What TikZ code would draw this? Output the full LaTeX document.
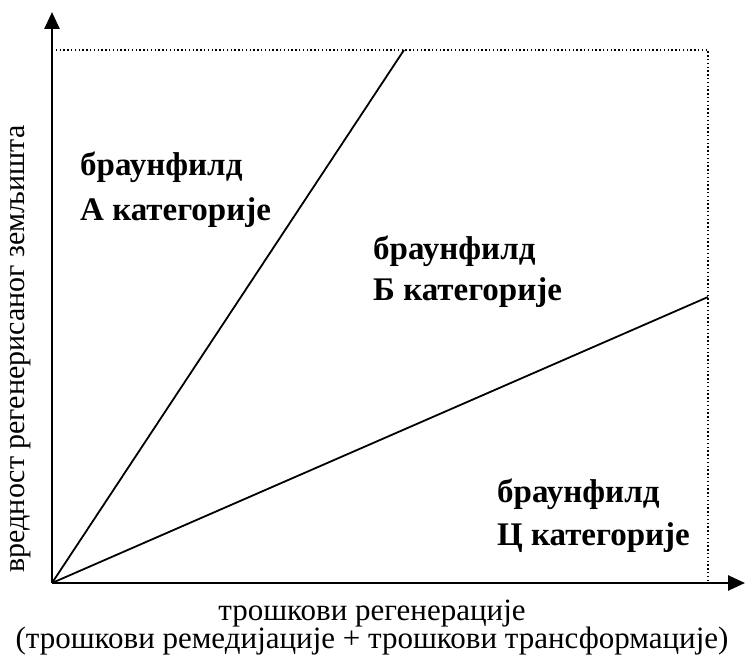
\documentclass[tikz,border=0pt]{standalone}
\usepackage{fontspec}
\setmainfont{Liberation Serif}
\usetikzlibrary{arrows.meta}
\begin{document}
\begin{tikzpicture}[x=1pt,y=-1pt,
  axis/.style={line width=2.6pt,-{Triangle[length=17pt,width=15pt]}},
  ray/.style={line width=1.8pt},
  frame/.style={line width=1.4pt,dash pattern=on 1.4pt off 2.4pt},
  lbl/.style={font=\fontsize{33}{38}\selectfont\bfseries,anchor=base west,inner sep=0pt},
  captxt/.style={font=\fontsize{31}{34}\selectfont,inner sep=0pt,anchor=base}]
\useasboundingbox (0,0) rectangle (745,655);
\coordinate (O) at (52,583);
\coordinate (Ytip) at (52,12);
\coordinate (Xtip) at (745,583);
\coordinate (TL) at (52,50);
\coordinate (TR) at (708,50);
\coordinate (BR) at (708,583);
\coordinate (A) at (404,50);
\coordinate (B) at (708,297);
\draw[frame] (TL) -- (TR) -- (BR);
\draw[ray] (O) -- (A);
\draw[ray] (O) -- (B);
\draw[axis] (O) -- (Ytip);
\draw[axis] (O) -- (Xtip);
\node[lbl] (la1) at (80,176) {браунфилд};
\node[lbl] (la2) at (80,221) {А категорије};
\node[lbl] (lb1) at (373,260) {браунфилд};
\node[lbl] (lb2) at (373,301) {Б категорије};
\node[lbl] (lc1) at (497,502) {браунфилд};
\node[lbl] (lc2) at (497,545) {Ц категорије};
\node[captxt] (c1) at (372,620) {трошкови регенерације};
\node[captxt] (c2) at (372,648) {(трошкови ремедијације + трошкови трансформације)};
\node[captxt,font=\fontsize{30}{34}\selectfont,rotate=90] (yl) at (24,349) {вредност регенерисаног земљишта};
\end{tikzpicture}
\end{document}
